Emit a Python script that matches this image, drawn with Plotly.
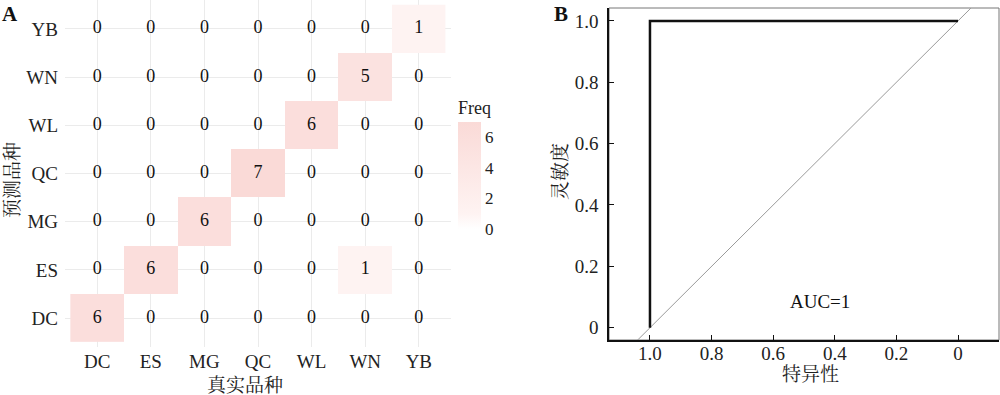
import plotly.graph_objects as go

# ---------------- data ----------------
true_classes = ["DC", "ES", "MG", "QC", "WL", "WN", "YB"]
pred_classes = ["DC", "ES", "MG", "QC", "WL", "WN", "YB"]
# freq[i][j]: predicted = pred_classes[i], true = true_classes[j]
freq = [
    [6, 0, 0, 0, 0, 0, 0],  # DC
    [0, 6, 0, 0, 0, 1, 0],  # ES
    [0, 0, 6, 0, 0, 0, 0],  # MG
    [0, 0, 0, 7, 0, 0, 0],  # QC
    [0, 0, 0, 0, 6, 0, 0],  # WL
    [0, 0, 0, 0, 0, 5, 0],  # WN
    [0, 0, 0, 0, 0, 0, 1],  # YB
]
freq_ticks = [0, 2, 4, 6]

roc_specificity = [1.0, 1.0, 0.0]
roc_sensitivity = [0.0, 1.0, 1.0]
auc_value = 1
spec_ticks = [1.0, 0.8, 0.6, 0.4, 0.2, 0.0]
spec_ticktext = ["1.0", "0.8", "0.6", "0.4", "0.2", "0"]
sens_ticks = [0.0, 0.2, 0.4, 0.6, 0.8, 1.0]
sens_ticktext = ["0", "0.2", "0.4", "0.6", "0.8", "1.0"]

FONT = "Liberation Serif, Noto Serif CJK SC, Noto Sans CJK SC, serif"
W, H = 1000, 395


def px(x):
    return x / W


def py(y):
    return 1 - y / H


fig = go.Figure()

# ---------------- Panel A: confusion heatmap ----------------
z_show = [[v if v != 0 else None for v in row] for row in freq]
fig.add_trace(go.Heatmap(
    x=true_classes, y=pred_classes, z=z_show,
    zmin=0, zmax=7,
    colorscale=[[0, "#FFFFFF"], [1 / 7, "#FEF3F2"], [1, "#FADAD7"]],
    hoverongaps=False,
    xaxis="x", yaxis="y",
    colorbar=dict(
        x=px(458), xanchor="left", xref="paper",
        y=py(97), yanchor="top", yref="paper",
        len=(229 - 97) / H, lenmode="fraction",
        thickness=23, thicknessmode="pixels",
        outlinewidth=0, xpad=0, ypad=0,
        tickvals=freq_ticks, ticks="",
        tickfont=dict(family=FONT, size=17, color="#222"),
        title=dict(text="Freq", side="top", font=dict(family=FONT, size=18, color="#222")),
    ),
))

tx, ty, tt = [], [], []
for i, p in enumerate(pred_classes):
    for j, t in enumerate(true_classes):
        tx.append(t)
        ty.append(p)
        tt.append(str(freq[i][j]))
fig.add_trace(go.Scatter(
    x=tx, y=ty, text=tt, mode="text",
    textfont=dict(family=FONT, size=18, color="#111"),
    xaxis="x", yaxis="y", showlegend=False, hoverinfo="skip",
))

# ---------------- Panel B: ROC ----------------
rng_x = [1.133, -0.133]
rng_y = [-0.04, 1.042]
diag_x = [1.3, -0.3]
diag_y = [1 - v for v in diag_x]
fig.add_trace(go.Scatter(
    x=diag_x, y=diag_y, mode="lines",
    line=dict(color="#9a9a9a", width=1),
    xaxis="x2", yaxis="y2", showlegend=False, hoverinfo="skip",
))
fig.add_trace(go.Scatter(
    x=roc_specificity, y=roc_sensitivity, mode="lines",
    line=dict(color="#111", width=2.5),
    xaxis="x2", yaxis="y2", showlegend=False,
))

fig.update_layout(
    width=W, height=H,
    margin=dict(l=0, r=0, t=0, b=0),
    paper_bgcolor="white", plot_bgcolor="white",
    font=dict(family=FONT, color="#222"),
    showlegend=False,
    xaxis=dict(
        domain=[px(65), px(451)], type="category",
        categoryorder="array", categoryarray=true_classes,
        range=[-0.6, 6.6], showgrid=True, gridcolor="#EBEBEB", gridwidth=1,
        zeroline=False, showline=False, ticks="", ticklabelstandoff=1,
        tickfont=dict(family=FONT, size=19, color="#222"), anchor="y",
    ),
    yaxis=dict(
        domain=[py(347), py(0)], type="category",
        categoryorder="array", categoryarray=pred_classes,
        range=[-0.6, 6.6], showgrid=True, gridcolor="#EBEBEB", gridwidth=1,
        zeroline=False, showline=False, ticks="", ticklabelstandoff=6,
        tickfont=dict(family=FONT, size=19, color="#222"), anchor="x",
    ),
    xaxis2=dict(
        domain=[px(609), px(999)], range=rng_x, anchor="y2",
        showgrid=False, zeroline=False,
        showline=True, linecolor="#111", linewidth=1.5,
        ticks="inside", ticklen=5, tickcolor="#111", tickwidth=1.2,
        tickvals=spec_ticks, ticktext=spec_ticktext, ticklabelstandoff=-5,
        tickfont=dict(family=FONT, size=19, color="#222"),
    ),
    yaxis2=dict(
        domain=[py(340), py(8)], range=rng_y, anchor="x2",
        showgrid=False, zeroline=False,
        showline=True, linecolor="#111", linewidth=1.5,
        ticks="inside", ticklen=5, tickcolor="#111", tickwidth=1.2,
        tickvals=sens_ticks, ticktext=sens_ticktext, ticklabelstandoff=5,
        tickfont=dict(family=FONT, size=19, color="#222"),
    ),
    shapes=[dict(
        type="rect", xref="x2 domain", yref="y2 domain",
        x0=0, x1=1, y0=0, y1=1, line=dict(color="#777", width=1),
        layer="below",
    )],
)

annos = [
    dict(text="<b>A</b>", x=px(0), y=py(14), xref="paper", yref="paper",
         xanchor="left", yanchor="middle", font=dict(family=FONT, size=21, color="#111")),
    dict(text="<b>B</b>", x=px(552), y=py(14), xref="paper", yref="paper",
         xanchor="left", yanchor="middle", font=dict(family=FONT, size=21, color="#111")),
    dict(text="真实品种", x=px(245), y=py(385), xref="paper", yref="paper",
         xanchor="center", yanchor="middle", font=dict(family=FONT, size=19, color="#222")),
    dict(text="预测品种", x=px(12), y=py(180), xref="paper", yref="paper",
         xanchor="center", yanchor="middle", textangle=-90, font=dict(family=FONT, size=19, color="#222")),
    dict(text="特异性", x=px(810), y=py(374), xref="paper", yref="paper",
         xanchor="center", yanchor="middle", font=dict(family=FONT, size=19, color="#222")),
    dict(text="灵敏度", x=px(560), y=py(172), xref="paper", yref="paper",
         xanchor="center", yanchor="middle", textangle=-90, font=dict(family=FONT, size=19, color="#222")),
    dict(text=f"AUC={auc_value}", x=0.448, y=0.085, xref="x2", yref="y2",
         xanchor="center", yanchor="middle",
         font=dict(family=FONT, size=19, color="#111")),
]
for a in annos:
    a["showarrow"] = False
fig.update_layout(annotations=annos)

fig.write_html(
    "out.html",
    config={"displayModeBar": False},
    post_script="document.body.style.margin='0px';document.body.style.overflow='hidden';",
)
